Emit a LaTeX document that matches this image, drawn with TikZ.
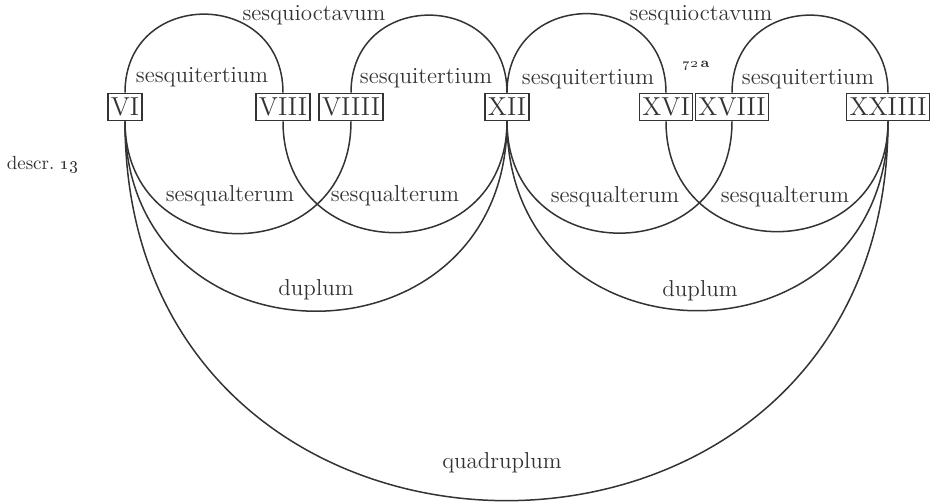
\documentclass[tikz,border=0pt]{standalone}
\usepackage{tikz}
\usetikzlibrary{positioning}
\newcommand{\lbl}[1]{\textcolor{black!80}{#1}}

\begin{document}
\begin{tikzpicture}[x=0.5pt,y=0.5pt,font=\fontsize{11.5}{13}\selectfont,
  num/.style={draw=black!80,line width=0.8pt,inner sep=1.5pt,minimum height=13.5pt,
    text=black!80,font=\fontsize{13}{15}\selectfont},
  over/.style={black!80,line width=0.75pt,out=90,in=90,looseness=1.7},
  under/.style={black!80,line width=0.75pt,out=-90,in=-90,looseness=1.7}]
  \useasboundingbox (0,0) rectangle (932,502);
  % the seven numbers
  \node[num] (n6) at (125,395) {VI};
  \node[num] (n8) at (283,395) {VIII};
  \node[num] (n9) at (351,395) {VIIII};
  \node[num] (n12) at (507,395) {XII};
  \node[num] (n16) at (666,395) {XVI};
  \node[num] (n18) at (732,395) {XVIII};
  \node[num] (n24) at (888,395) {XXIIII};
  % arcs above: 4:3
  \draw[over] (n6.north) to (n8.north);
  \draw[over] (n9.north) to (n12.north);
  \draw[over] (n12.north) to (n16.north);
  \draw[over] (n18.north) to (n24.north);
  % arcs below: 3:2, 2:1, 4:1
  \draw[under] (n6.south) to (n9.south);
  \draw[under] (n8.south) to (n12.south);
  \draw[under] (n12.south) to (n18.south);
  \draw[under] (n16.south) to (n24.south);
  \draw[under] (n6.south) to (n12.south);
  \draw[under] (n12.south) to (n24.south);
  \draw[under] (n6.south) to (n24.south);
  % ratio names
  \node (oct1) at (314,487) {\lbl{sesquioctavum}};
  \node (oct2) at (701,487) {\lbl{sesquioctavum}};
  \node (ter1) at (202,425) {\lbl{sesquitertium}};
  \node (ter2) at (426,424) {\lbl{sesquitertium}};
  \node (ter3) at (588,423) {\lbl{sesquitertium}};
  \node (ter4) at (808,423) {\lbl{sesquitertium}};
  \node (alt1) at (230,306) {\lbl{sesqualterum}};
  \node (alt2) at (395,306) {\lbl{sesqualterum}};
  \node (alt3) at (615,305) {\lbl{sesqualterum}};
  \node (alt4) at (785,305) {\lbl{sesqualterum}};
  \node (dup1) at (316,212) {\lbl{duplum}};
  \node (dup2) at (700,211) {\lbl{duplum}};
  \node (quad) at (502,39) {\lbl{quadruplum}};
  % margin notes
  \node[font=\fontsize{9.5}{11}\selectfont] (descr) at (43,337) {\lbl{descr.\ \oldstylenums{13}}};
  \node[font=\fontsize{7}{8}\selectfont\bfseries] (fol) at (696,436) {\lbl{\oldstylenums{72}\,a}};
\end{tikzpicture}
\end{document}
